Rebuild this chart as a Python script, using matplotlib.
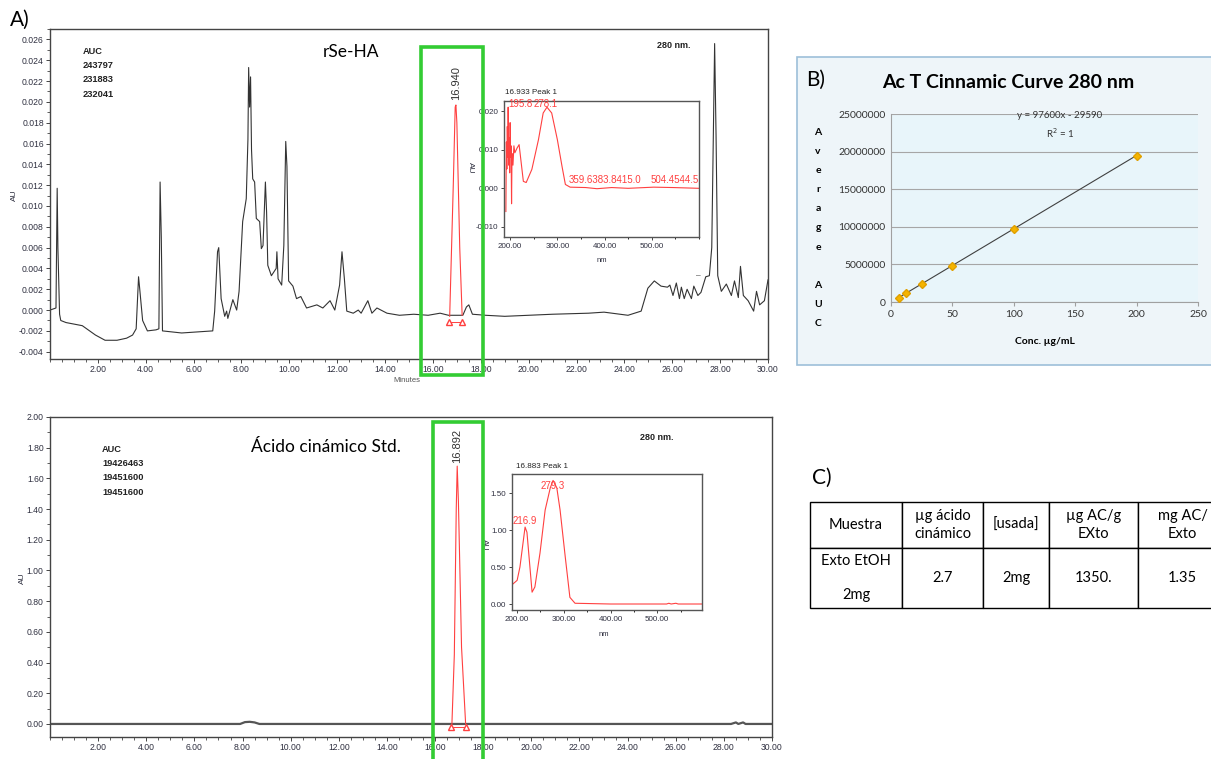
import matplotlib.pyplot as plt
from matplotlib.patches import Rectangle
from matplotlib.ticker import MultipleLocator, FormatStrFormatter

plt.rcParams['font.family'] = ['Liberation Sans', 'DejaVu Sans']

# --- data ---
# rSe-HA chromatogram (minutes, AU), black part
rse_trace = [
    (0.00, 0.0000), (0.25, 0.0002), (0.30, 0.0117), (0.33, 0.0060), (0.40, -0.0004),
    (0.45, -0.0010), (0.67, -0.0012), (1.35, -0.0015), (1.90, -0.0024), (2.30, -0.0029),
    (2.80, -0.0029), (3.20, -0.0027), (3.45, -0.0024), (3.60, -0.0018), (3.70, 0.0032),
    (3.75, 0.0020), (3.87, -0.0010), (4.07, -0.0020), (4.43, -0.0019), (4.55, -0.0018),
    (4.60, 0.0123), (4.65, 0.0070), (4.70, -0.0020), (5.50, -0.0022), (6.80, -0.0020),
    (6.88, -0.0001), (7.00, 0.0056), (7.05, 0.0060), (7.15, 0.0011), (7.30, -0.0006),
    (7.38, -0.0001), (7.43, -0.0008), (7.64, 0.0010), (7.80, 0.0000), (7.90, 0.0018),
    (8.05, 0.0085), (8.20, 0.0107), (8.27, 0.0164), (8.30, 0.0233), (8.34, 0.0195),
    (8.38, 0.0224), (8.42, 0.0154), (8.47, 0.0126), (8.55, 0.0123), (8.62, 0.0088),
    (8.76, 0.0085), (8.83, 0.0059), (8.90, 0.0062), (9.00, 0.0123), (9.05, 0.0094),
    (9.10, 0.0043), (9.25, 0.0033), (9.45, 0.0040), (9.48, 0.0056), (9.53, 0.0030),
    (9.68, 0.0024), (9.77, 0.0062), (9.85, 0.0162), (9.90, 0.0138), (9.97, 0.0028),
    (10.15, 0.0023), (10.30, 0.0011), (10.48, 0.0013), (10.72, 0.0002), (11.15, 0.0005),
    (11.40, 0.0002), (11.70, 0.0009), (11.90, 0.0000), (12.10, 0.0024), (12.20, 0.0056),
    (12.30, 0.0030), (12.40, -0.0001), (12.67, -0.0003), (12.88, 0.0000), (13.00, -0.0003),
    (13.28, 0.0009), (13.45, -0.0003), (13.66, 0.0002), (14.08, -0.0003), (14.60, -0.0005),
    (15.20, -0.0004), (15.80, -0.0005), (16.30, -0.0003), (16.65, -0.0005),
    (17.25, -0.0005), (17.40, 0.0003), (17.50, 0.0005), (17.65, -0.0004), (18.20, -0.0005),
    (19.00, -0.0006), (20.00, -0.0005), (21.00, -0.0004), (22.50, -0.0003), (23.15, -0.0002),
    (24.15, -0.0005), (24.70, -0.0001), (24.98, 0.0021), (25.25, 0.0028), (25.53, 0.0023),
    (25.80, 0.0022), (25.90, 0.0024), (26.03, 0.0014), (26.17, 0.0026), (26.30, 0.0011),
    (26.38, 0.0022), (26.50, 0.0011), (26.62, 0.0020), (26.80, 0.0011), (26.90, 0.0023),
    (27.07, 0.0014), (27.20, 0.0017), (27.40, 0.0032), (27.55, 0.0033), (27.65, 0.0060),
    (27.70, 0.0142), (27.77, 0.0256), (27.83, 0.0167), (27.90, 0.0033), (28.05, 0.0018),
    (28.26, 0.0025), (28.47, 0.0014), (28.60, 0.0028), (28.76, 0.0012), (28.85, 0.0042),
    (28.97, 0.0014), (29.17, 0.0009), (29.40, -0.0001), (29.52, 0.0018), (29.65, 0.0005),
    (29.85, 0.0009), (30.00, 0.0029),
]
rse_peak_t = [16.70, 16.85, 16.93, 16.96, 17.00, 17.12, 17.22]
rse_peak_au = [-0.0006, 0.0120, 0.0195, 0.0197, 0.0180, 0.0060, -0.0005]
rse_base_t = [16.68, 17.22]
rse_base_au = [-0.0011, -0.0011]

# cinnamic acid standard chromatogram
std_t = [0.0, 7.9, 8.1, 8.3, 8.5, 8.7, 16.60, 16.70, 17.27, 17.40, 28.3, 28.5, 28.6, 28.8, 28.9, 30.0]
std_au = [0.0, 0.0, 0.012, 0.014, 0.010, 0.0, 0.0, 0.0, 0.0, 0.0, 0.0, 0.010, 0.0, 0.010, 0.0, 0.0]
std_peak_t = [16.70, 16.80, 16.88, 16.92, 16.97, 17.10, 17.27]
std_peak_au = [0.0, 0.45, 1.40, 1.68, 1.45, 0.50, 0.0]
std_base_t = [16.68, 17.27]
std_base_au = [-0.02, -0.02]

# UV spectra (nm, AU)
spec1 = [
    (191, -0.006), (192, 0.012), (193, 0.005), (194, 0.016), (195, 0.008), (195.8, 0.021),
    (197, 0.006), (198, 0.013), (199, 0.004), (200, 0.017), (201, 0.008), (202, 0.011),
    (203, -0.004), (204, 0.009), (206, 0.006), (208, 0.011), (210, 0.0092), (215, 0.0105),
    (219, 0.0113), (224, 0.006), (228, 0.0018), (234, 0.0015), (246, 0.0049), (260, 0.0126),
    (270, 0.0195), (278, 0.0210), (288, 0.0195), (300, 0.0126), (310, 0.0056), (317, 0.0010),
    (327, 0.0003), (360, 0.0002), (384, -0.0001), (415, 0.0002), (450, 0.0000), (504, 0.0003),
    (545, 0.0002), (600, 0.0000),
]
spec2 = [
    (189, 0.26), (200, 0.32), (206, 0.50), (217, 1.04), (221, 0.97), (232, 0.16), (238, 0.23),
    (249, 0.69), (260, 1.27), (271, 1.57), (277, 1.67), (285, 1.57), (292, 1.27), (303, 0.64),
    (313, 0.09), (324, 0.01), (400, 0.0), (520, 0.0), (525, 0.01), (530, 0.0), (540, 0.01),
    (545, 0.0), (596, 0.0),
]

# calibration curve
conc = [6.25, 12.5, 25, 50, 100, 200]
auc_avg = [580000, 1190000, 2410000, 4850000, 9730000, 19450000]
slope, intercept = 97600, -29590

# table
table_header = ['Muestra', 'µg ácido\ncinámico', '[usada]', 'µg AC/g\nEXto', 'mg AC/\nExto']
table_row = ['Exto EtOH\n\n2mg', '2.7', '2mg', '1350.', '1.35']
col_px = [92, 81, 66, 89, 89]

W, H = 1211, 759
fig = plt.figure(figsize=(W / 100, H / 100), dpi=100)
GREEN = '#33cc33'
RED = '#ff4040'
TICK = '#2f3040'


def box(l, t, r, b):
    return [l / W, 1 - b / H, (r - l) / W, (b - t) / H]


def ftext(x, y, s, **kw):
    return fig.text(x / W, 1 - y / H, s, **kw)


def chrom_axes(rect, ylim, ystep, yfmt):
    ax = fig.add_axes(box(*rect))
    ax.set_xlim(0, 30)
    ax.set_ylim(*ylim)
    ax.set_xticks(range(2, 31, 2))
    ax.xaxis.set_minor_locator(MultipleLocator(0.5))
    ax.xaxis.set_major_formatter(FormatStrFormatter('%.2f'))
    ax.yaxis.set_major_locator(MultipleLocator(ystep))
    ax.yaxis.set_minor_locator(MultipleLocator(ystep / 2))
    ax.yaxis.set_major_formatter(FormatStrFormatter(yfmt))
    ax.tick_params(labelsize=6.2, labelcolor=TICK, color='#444', length=3, width=0.7, pad=1.5)
    ax.tick_params(which='minor', color='#444', length=2, width=0.6)
    for s in ax.spines.values():
        s.set_color('#444')
        s.set_linewidth(1)
    return ax


def spec_axes(rect, xlim, ylim, yticks, yfmt):
    ax = fig.add_axes(box(*rect))
    ax.set_xlim(*xlim)
    ax.set_ylim(*ylim)
    ax.set_xticks([200, 300, 400, 500])
    ax.set_yticks(yticks)
    ax.xaxis.set_major_formatter(FormatStrFormatter('%.2f'))
    ax.yaxis.set_major_formatter(FormatStrFormatter(yfmt))
    ax.xaxis.set_minor_locator(MultipleLocator(50))
    ax.tick_params(labelsize=5.8, labelcolor=TICK, color='#444', length=2.5, width=0.7, pad=1.5)
    ax.tick_params(which='minor', length=1.5)
    for s in ax.spines.values():
        s.set_color('#555')
        s.set_linewidth(1)
    return ax


# --- A) top chromatogram ---
ax1 = chrom_axes((50, 29, 768, 359), (-0.0047, 0.027), 0.002, '%.3f')
t1, a1 = zip(*rse_trace)
ax1.plot(t1, a1, color='#333333', lw=0.8)
ax1.plot(rse_peak_t, rse_peak_au, color=RED, lw=0.8)
ax1.plot(rse_base_t, rse_base_au, color=RED, lw=0.7, marker='^', ms=4, mfc='white', mec=RED)
ax1.text(16.95, 0.0202, '16.940', rotation=90, ha='center', va='bottom', fontsize=8, color='#333')

ins1 = spec_axes((504, 101, 699, 237), (187, 600), (-0.0126, 0.0226), [-0.01, 0, 0.01, 0.02], '%.3f')
w1, s1 = zip(*spec1)
ins1.plot(w1, s1, color=RED, lw=0.8)
ins1.text(196, 0.0218, '195.8', color=RED, fontsize=7, va='center')
ins1.text(250, 0.0218, '278.1', color=RED, fontsize=7, va='center')
ins1.text(325, 0.0022, '359.6383.8415.0', color=RED, fontsize=7, va='center')
ins1.text(498, 0.0022, '504.4544.5', color=RED, fontsize=7, va='center')

ftext(10, 26, 'A)', fontsize=15, family='Lato')
ftext(351, 52, 'rSe-HA', fontsize=12.5, family='Lato', ha='center', va='center')
ftext(83, 47, 'AUC\n243797\n231883\n232041', fontsize=6.7, weight='bold', va='top',
      linespacing=1.75, color='#222')
ftext(674, 46, '280 nm.', fontsize=6.5, weight='bold', ha='center', va='center', color='#222')
ftext(14, 195, 'AU', fontsize=6, rotation=90, ha='center', va='center', color=TICK)
ftext(393, 380, 'Minutes', fontsize=5.5, va='center', color='#555')
ftext(505, 96, '16.933 Peak 1', fontsize=5.8, va='bottom', color='#222')
ftext(470, 168, 'AU', fontsize=6, rotation=270, ha='center', va='center', color=TICK)
ftext(602, 261, 'nm', fontsize=5.5, ha='center', va='center', color=TICK)
ftext(698, 276, '‒', fontsize=6, ha='center', va='center', color='#333')

# --- A) bottom chromatogram ---
ax2 = chrom_axes((50, 417, 772, 737), (-0.085, 2.0), 0.2, '%.2f')
ax2.plot(std_t, std_au, color='#555555', lw=1.6)
ax2.plot(std_peak_t, std_peak_au, color=RED, lw=0.8)
ax2.plot(std_base_t, std_base_au, color=RED, lw=0.7, marker='^', ms=4, mfc='white', mec=RED)
ax2.text(16.92, 1.70, '16.892', rotation=90, ha='center', va='bottom', fontsize=8, color='#333')

ins2 = spec_axes((512, 474, 702, 610), (189, 596), (-0.081, 1.757), [0, 0.5, 1.0, 1.5], '%.2f')
w2, s2 = zip(*spec2)
ins2.plot(w2, s2, color=RED, lw=0.8)
ins2.text(191, 1.12, '216.9', color=RED, fontsize=7, va='center')
ins2.text(250, 1.60, '279.3', color=RED, fontsize=7, va='center')

ftext(326, 447, 'Ácido cinámico Std.', fontsize=12.5, family='Lato', ha='center', va='center')
ftext(102, 445, 'AUC\n19426463\n19451600\n19451600', fontsize=6.7, weight='bold', va='top',
      linespacing=1.75, color='#222')
ftext(657, 437, '280 nm.', fontsize=6.5, weight='bold', ha='center', va='center', color='#222')
ftext(22, 578, 'AU', fontsize=6, rotation=90, ha='center', va='center', color=TICK)
ftext(516, 470, '16.883 Peak 1', fontsize=5.8, va='bottom', color='#222')
ftext(484, 545, 'AU', fontsize=6, rotation=270, ha='center', va='center', color=TICK)
ftext(604, 635, 'nm', fontsize=5.5, ha='center', va='center', color=TICK)

# green highlight boxes
for l, t, r, b in [(421, 47, 483, 375), (433, 422, 483, 770)]:
    fig.patches.append(Rectangle((l / W, 1 - b / H), (r - l) / W, (b - t) / H,
                                 transform=fig.transFigure, fill=False,
                                 edgecolor=GREEN, lw=2.6, zorder=5))

# --- B) calibration curve ---
fig.patches.append(Rectangle((797 / W, 1 - 365 / H), (1230 - 797) / W, (365 - 57) / H,
                             transform=fig.transFigure, facecolor='#eef5f9',
                             edgecolor='#9dbfd9', lw=1.2, zorder=-1))
axb = fig.add_axes(box(891, 114, 1198, 302), facecolor='#e8f5fa')
axb.plot(conc, [slope * c + intercept for c in conc], color='#404040', lw=0.8)
axb.plot(conc, auc_avg, 'D', color='#f5b400', mec='#e0a000', ms=4.5, zorder=3)
axb.set_xlim(0, 250)
axb.set_ylim(0, 25000000)
axb.set_xticks(range(0, 251, 50))
axb.set_yticks(range(0, 25000001, 5000000))
axb.yaxis.set_major_formatter(FormatStrFormatter('%d'))
axb.grid(axis='y', color='#a6a6a6', lw=0.8)
axb.set_axisbelow(True)
for side in ['top', 'right']:
    axb.spines[side].set_visible(False)
for side in ['left', 'bottom']:
    axb.spines[side].set_color('#a0a0a0')
axb.tick_params(axis='x', length=3, color='#a0a0a0', labelsize=7.5, labelcolor='#333', pad=3)
axb.tick_params(axis='y', length=0, labelsize=7.5, labelcolor='#333', pad=4)
for lab in axb.get_xticklabels() + axb.get_yticklabels():
    lab.set_family('Lato')
axb.text(0.55, 0.94, 'y = 97600x - 29590\nR$^2$ = 1', transform=axb.transAxes, ha='center',
         va='center', fontsize=7, family='Lato', color='#333', linespacing=1.5)

ftext(806, 80, 'B)', fontsize=15, family='Lato', va='center')
ftext(1008, 83, 'Ac T Cinnamic Curve 280 nm', fontsize=14, family='Lato', weight='bold',
      ha='center', va='center')
ftext(1045, 341, 'Conc. µg/mL', fontsize=7.5, family='Lato', weight='bold', ha='center', va='center')
ftext(818, 228, 'A\nv\ne\nr\na\ng\ne\n\nA\nU\nC', fontsize=7.5, family='Lato', weight='bold',
      ha='center', va='center', linespacing=2.45)

# --- C) table ---
ftext(812, 478, 'C)', fontsize=15, family='Lato', va='center')
axt = fig.add_axes(box(810, 502, 810 + sum(col_px), 608))
axt.axis('off')
tbl = axt.table(cellText=[table_row], colLabels=table_header,
                colWidths=[c / sum(col_px) for c in col_px], cellLoc='center', bbox=[0, 0, 1, 1])
tbl.auto_set_font_size(False)
for (r, c), cell in tbl.get_celld().items():
    cell.set_height(46 if r == 0 else 60)
    cell.set_linewidth(1.0)
    cell.get_text().set_fontsize(10.5)
    cell.get_text().set_family('Lato')
    cell.get_text().set_linespacing(1.3)

fig.savefig('out.png', dpi=100)
